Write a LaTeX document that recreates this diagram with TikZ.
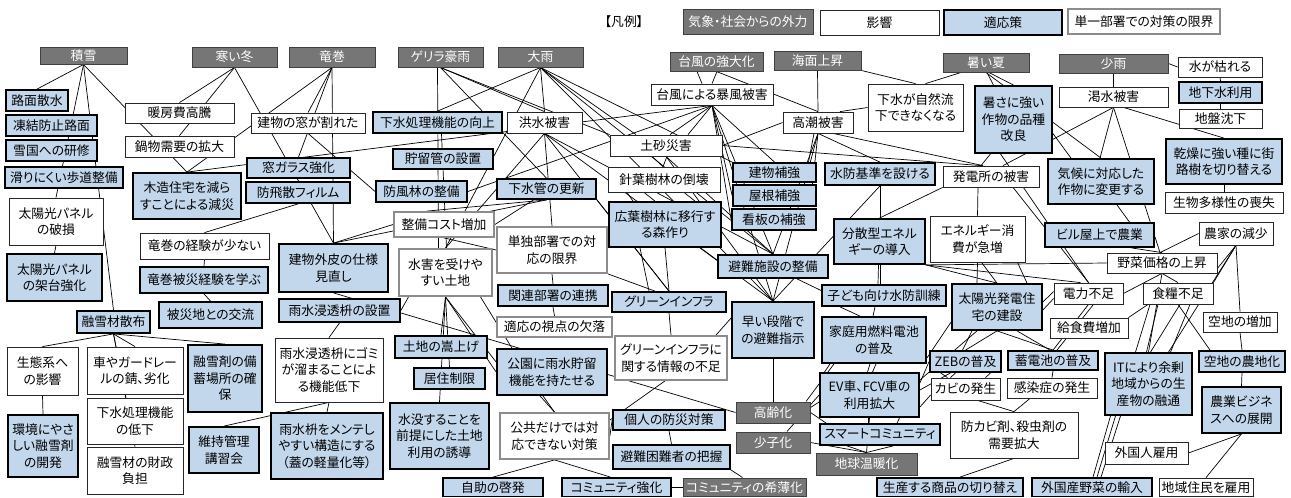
\documentclass[tikz,border=0pt]{standalone}
\usepackage{fontspec}
\setmainfont{Noto Sans CJK JP}[RawFeature=+palt]
\definecolor{adab}{RGB}{194,214,236}
\definecolor{extg}{RGB}{118,118,118}
\pgfdeclarelayer{back}
\pgfdeclarelayer{bg}
\pgfsetlayers{back,bg,main}
\tikzset{
 nb/.style={rectangle, inner sep=0.5pt, align=center, font=\fontsize{12.8}{16.5}\selectfont},
 ext/.style={nb, fill=extg, draw=black!75, line width=1pt, text=white},
 imp/.style={nb, fill=white, draw=black!85, line width=0.8pt},
 ada/.style={nb, fill=adab, draw=black, line width=1.8pt},
 lim/.style={nb, fill=white, draw=black!45, line width=1.8pt},
 conn/.style={draw=black, line width=0.7pt},
}
\newcommand\bx[7]{\node[#1, minimum width={(#5-#3)*1pt}, minimum height={(#6-#4)*1pt}] (#2) at ({(#3+#5)/2},{(#4+#6)/2}) {#7};}
\newcommand\lnk[2]{\draw[conn] (#1) -- (#2);}
\begin{document}
\begin{tikzpicture}[x=1pt,y=-1pt]
\useasboundingbox (0,0) rectangle (1291,498);
\begin{pgfonlayer}{back}
\fill[white] (0,0) rectangle (1291,498);
\end{pgfonlayer}
% legend
\node[font=\fontsize{12.8}{15}\selectfont] (lgt) at (624,21.5) {【凡例】};
\bx{ext}{lg1}{683}{9}{813}{34}{気象・社会からの外力}
\bx{imp}{lg2}{820}{10}{939}{35}{影響}
\bx{ada}{lg3}{944}{10}{1062}{35}{適応策}
\bx{lim}{lg4}{1068}{9}{1220}{34}{単一部署での対策の限界}
% external forces
\bx{ext}{sekisetsu}{40}{47}{127}{64}{積雪}
\bx{ext}{samui}{192}{47}{277}{67}{寒い冬}
\bx{ext}{tatsu}{289}{47}{375}{67}{竜巻}
\bx{ext}{guer}{398}{47}{483}{67}{ゲリラ豪雨}
\bx{ext}{ooame}{498}{47}{583}{67}{大雨}
\bx{ext}{taifu}{670}{52}{763}{71}{台風の強大化}
\bx{ext}{kaimen}{774}{51}{861}{70}{海面上昇}
\bx{ext}{atsui}{943}{53}{1029}{72}{暑い夏}
\bx{ext}{shou}{1059}{54}{1168}{73}{少雨}
\bx{ext}{kourei}{736}{402}{810}{423}{高齢化}
\bx{ext}{shoushi}{736}{432}{810}{453}{少子化}
\bx{ext}{ondan}{816}{453}{917}{475}{地球温暖化}
\bx{ext}{kihaku}{683}{478}{806}{496.5}{コミュニティの希薄化}
% impacts
\bx{imp}{danbou}{125}{103}{234}{123}{暖房費高騰}
\bx{imp}{nabe}{125}{136}{234}{157}{鍋物需要の拡大}
\bx{imp}{mado}{251}{113}{365}{133}{建物の窓が割れた}
\bx{imp}{paneru}{9}{198}{103}{245}{太陽光パネル\\の破損}
\bx{imp}{tkeiken}{140}{233}{269}{259}{竜巻の経験が少ない}
\bx{imp}{seitai}{7}{347}{78}{395}{生態系へ\\の影響}
\bx{imp}{kuruma}{87}{347}{183}{394}{車やガードレー\\ルの錆、劣化}
\bx{imp}{gteika}{87}{398}{183}{444}{下水処理機能\\の低下}
\bx{imp}{zaisei}{87}{447}{183}{494}{融雪材の財政\\負担}
\bx{imp}{gomi}{275}{338}{383}{402}{雨水浸透枡にゴミ\\が溜まることによ\\る機能低下}
\bx{imp}{kouzui}{507}{112}{582}{133}{洪水被害}
\bx{imp}{dosha}{610}{135}{722}{156}{土砂災害}
\bx{imp}{shinyou}{608}{167}{720}{192}{針葉樹林の倒壊}
\bx{imp}{boufu}{651}{84}{773}{105}{台風による暴風被害}
\bx{imp}{takashio}{783}{112}{853}{133}{高潮被害}
\bx{imp}{shizen}{868}{84}{963}{131}{下水が自然流\\下できなくなる}
\bx{imp}{hatsuden}{943}{166}{1039}{187}{発電所の被害}
\bx{imp}{energy}{930}{216}{1025}{262}{エネルギー消\\費が急増}
\bx{imp}{kassui}{1059}{87}{1168}{107}{渇水被害}
\bx{imp}{kareru}{1178}{57}{1262}{77}{水が枯れる}
\bx{imp}{jiban}{1179}{109}{1262}{128}{地盤沈下}
\bx{imp}{seibutsu}{1165}{192}{1283}{213}{生物多様性の喪失}
\bx{imp}{nouka}{1199}{222}{1273}{245}{農家の減少}
\bx{imp}{yasai}{1107}{253}{1217}{273}{野菜価格の上昇}
\bx{imp}{denryoku}{1054}{283}{1123}{304}{電力不足}
\bx{imp}{shokuryo}{1143}{283}{1213}{304}{食糧不足}
\bx{imp}{kyushoku}{1050}{318}{1128}{338}{給食費増加}
\bx{imp}{akichi}{1203}{312}{1277}{332}{空地の増加}
\bx{imp}{kabi}{931}{378}{1000}{400}{カビの発生}
\bx{imp}{kansen}{1007}{378}{1097}{398}{感染症の発生}
\bx{imp}{boukabi}{950}{412}{1078}{458}{防カビ剤、殺虫剤の\\需要拡大}
\bx{imp}{gaikokujin}{1105}{442}{1188}{464}{外国人雇用}
\bx{imp}{chiiki}{1159}{478}{1253}{496.5}{地域住民を雇用}
% limits
\bx{lim}{cost}{394}{212}{494}{237}{整備コスト増加}
\bx{lim}{tandoku}{497}{227}{607}{273}{単独部署での対\\応の限界}
\bx{lim}{suigai}{399}{249}{492}{296}{水害を受けや\\すい土地}
\bx{lim}{shiten}{497}{317}{612}{337}{適応の視点の欠落}
\bx{lim}{koukyou}{500}{413}{609}{459}{公共だけでは対\\応できない対策}
\bx{lim}{ginfo}{615}{336}{727}{380}{グリーンインフラに\\関する情報の不足}
% adaptations
\bx{ada}{romen}{6}{90}{68}{111}{路面散水}
\bx{ada}{touketsu}{6}{115}{97}{136}{凍結防止路面}
\bx{ada}{yukiguni}{6}{140}{97}{161}{雪国への研修}
\bx{ada}{hodou}{5}{167}{123}{188}{滑りにくい歩道整備}
\bx{ada}{mokuzou}{133}{173}{241}{219}{木造住宅を減ら\\すことによる減災}
\bx{ada}{glass}{247}{158}{350}{178}{窓ガラス強化}
\bx{ada}{film}{246}{182}{350}{203}{防飛散フィルム}
\bx{ada}{kadai}{7}{254}{102}{301}{太陽光パネル\\の架台強化}
\bx{ada}{tmanabu}{140}{267}{268}{293}{竜巻被災経験を学ぶ}
\bx{ada}{kouryu}{159}{302}{262}{328}{被災地との交流}
\bx{ada}{sanpu}{77}{311}{150}{333}{融雪材散布}
\bx{ada}{bichiku}{188}{345}{262}{412}{融雪剤の備\\蓄場所の確\\保}
\bx{ada}{kankyo}{8}{415}{78}{477}{環境にやさ\\しい融雪剤\\の開発}
\bx{ada}{iji}{189}{427}{259}{473}{維持管理\\講習会}
\bx{ada}{gaihi}{279}{244}{388}{292}{建物外皮の仕様\\見直し}
\bx{ada}{shintou}{279}{299}{400}{322}{雨水浸透枡の設置}
\bx{ada}{mente}{271}{413}{383}{479}{雨水枡をメンテし\\やすい構造にする\\（蓋の軽量化等）}
\bx{ada}{gkoujou}{373}{112}{502}{133}{下水処理機能の向上}
\bx{ada}{choryu}{393}{149}{493}{169}{貯留管の設置}
\bx{ada}{boufurin}{376}{181}{467}{202}{防風林の整備}
\bx{ada}{gesuikan}{497}{179}{596}{199}{下水管の更新}
\bx{ada}{kouyou}{609}{202}{721}{247}{広葉樹林に移行す\\る森作り}
\bx{ada}{tatehokyo}{733}{163}{816}{182}{建物補強}
\bx{ada}{yane}{733}{185}{816}{206}{屋根補強}
\bx{ada}{kanban}{732}{209}{816}{230}{看板の補強}
\bx{ada}{suibou}{825}{163}{935}{185}{水防基準を設ける}
\bx{ada}{atsusa}{975}{86}{1052}{153}{暑さに強い\\作物の品種\\改良}
\bx{ada}{chikasui}{1179}{82}{1262}{103}{地下水利用}
\bx{ada}{kansou}{1166}{139}{1282}{184}{乾燥に強い種に街\\路樹を切り替える}
\bx{ada}{kikou}{1048}{159}{1154}{204}{気候に対応した\\作物に変更する}
\bx{ada}{biru}{1045}{223}{1154}{247}{ビル屋上で農業}
\bx{ada}{hinan}{718}{255}{828}{278}{避難施設の整備}
\bx{ada}{bunsan}{834}{219}{925}{264}{分散型エネル\\ギーの導入}
\bx{ada}{kodomo}{822}{285}{946}{306}{子ども向け水防訓練}
\bx{ada}{ginfra}{612}{292}{726}{312}{グリーンインフラ}
\bx{ada}{hayai}{732}{302}{814}{358}{早い段階で\\の避難指示}
\bx{ada}{nenryo}{822}{317}{926}{363}{家庭用燃料電池\\の普及}
\bx{ada}{taiyoukou}{952}{284}{1042}{330}{太陽光発電住\\宅の建設}
\bx{ada}{zeb}{930}{351}{1001}{372}{ZEBの普及}
\bx{ada}{chikuden}{1008}{351}{1098}{370}{蓄電池の普及}
\bx{ada}{ev}{820}{373}{919}{417}{EV車、FCV車の\\利用拡大}
\bx{ada}{smart}{820}{424}{940}{445}{スマートコミュニティ}
\bx{ada}{it}{1105}{353}{1192}{415}{ITにより余剰\\地域からの生\\産物の融通}
\bx{ada}{nouchi}{1199}{351}{1285}{372}{空地の農地化}
\bx{ada}{business}{1202}{387}{1281}{433}{農業ビジネ\\スへの展開}
\bx{ada}{yunyu}{1032}{478}{1152}{496.5}{外国産野菜の輸入}
\bx{ada}{kirikae}{877}{478}{1023}{496.5}{生産する商品の切り替え}
\bx{ada}{renkei}{498}{285}{608}{306}{関連部署の連携}
\bx{ada}{kasaage}{395}{336}{487}{358}{土地の嵩上げ}
\bx{ada}{kyoju}{414}{368}{485}{389}{居住制限}
\bx{ada}{suibotsu}{390}{403}{489}{469}{水没することを\\前提にした土地\\利用の誘導}
\bx{ada}{kouen}{497}{349}{607}{395}{公園に雨水貯留\\機能を持たせる}
\bx{ada}{kojin}{613}{410}{725}{430}{個人の防災対策}
\bx{ada}{haaku}{613}{445}{730}{469}{避難困難者の把握}
\bx{ada}{comm}{562}{478}{671}{496.5}{コミュニティ強化}
\bx{ada}{jijo}{443}{478}{543}{496.5}{自助の啓発}
% connectors
\begin{pgfonlayer}{bg}
\lnk{sekisetsu.south}{romen.north}
\lnk{sekisetsu.south}{paneru.north}
\lnk{sekisetsu.south}{sanpu.north}
\lnk{sekisetsu.south}{mokuzou.north}
\lnk{samui.south}{danbou.north}
\lnk{samui.south}{nabe.north}
\lnk{samui.south}{gaihi.north}
\lnk{tatsu.south}{mokuzou.north}
\lnk{tatsu.south}{gaihi.north}
\lnk{tatsu.south}{glass.north}
\lnk{tatsu.south}{mado.north}
\lnk{boufu.south}{mokuzou.north}
\lnk{mado.south}{boufurin.west}
\lnk{film.south}{tkeiken.north}
\lnk{tkeiken.south}{tmanabu.north}
\lnk{tmanabu.south}{kouryu.north}
\lnk{paneru.south}{kadai.north}
\lnk{sanpu.south}{seitai.north}
\lnk{sanpu.south}{kuruma.north}
\lnk{sanpu.south}{[xshift=-9pt]gteika.north}
\lnk{sanpu.south}{zaisei.north}
\lnk{sanpu.south}{bichiku.north}
\lnk{seitai.south}{kankyo.north}
\lnk{iji.north}{gomi.south}
\lnk{gomi.south}{mente.north}
\lnk{shintou.south}{gomi.north}
\lnk{gaihi.south}{kourei.west}
\lnk{cost.west}{gaihi.north}
\lnk{gesuikan.south}{gaihi.north}
\lnk{gesuikan.south}{[xshift=-17pt]cost.north}
\lnk{[xshift=-13pt]gesuikan.south}{cost.east}
\lnk{[xshift=-3pt]guer.south}{[xshift=-7pt]suigai.north}
\lnk{[xshift=4pt]gkoujou.south}{[xshift=1pt]suigai.north}
\lnk{ooame.south}{gkoujou.north}
\lnk{guer.south}{gesuikan.north}
\lnk{guer.south}{kouzui.north}
\lnk{guer.south}{dosha.north west}
\lnk{ooame.south}{kouzui.north}
\lnk{ooame.south}{[xshift=-30pt]dosha.north}
\lnk{ooame.south}{tatehokyo.north west}
\lnk{ooame.south}{hinan.north}
\lnk{ooame.south}{hayai.north}
\lnk{ooame.south}{suigai.north}
\lnk{kouzui.south}{tandoku.north}
\lnk{kouzui.south}{hinan.north}
\lnk{kouzui.south}{hayai.north}
\lnk{kouzui.south}{ginfra.north}
\lnk{kouzui.south}{suigai.north}
\lnk{boufu.south}{boufurin.east}
\lnk{boufu.south}{[xshift=4pt]dosha.north}
\lnk{boufu.south}{[xshift=22pt]dosha.north}
\lnk{boufu.south}{tatehokyo.north}
\lnk{boufu.south}{yane.west}
\lnk{boufu.south}{kanban.west}
\lnk{boufu.south}{hinan.north}
\lnk{boufu.south}{hayai.north}
\lnk{[xshift=-19.5pt]taifu.south}{[xshift=-10pt]boufu.north}
\lnk{[xshift=0.5pt]taifu.south}{boufu.north}
\lnk{taifu.south}{takashio.north}
\lnk{kaimen.south}{takashio.north}
\lnk{kaimen.south east}{shizen.north}
\lnk{[xshift=-25pt]atsui.south}{[xshift=10pt]shizen.north}
\lnk{shizen.west}{[xshift=22pt]takashio.north}
\lnk{takashio.west}{dosha.east}
\lnk{dosha.east}{[xshift=-10pt]hatsuden.north}
\lnk{[xshift=-4pt]takashio.south}{[xshift=34pt]tatehokyo.north}
\lnk{takashio.south}{[xshift=38pt]yane.north}
\lnk{takashio.south}{suibou.north}
\lnk{[xshift=15pt]takashio.south}{[xshift=-8pt]hatsuden.north}
\lnk{takashio.south}{hinan.north}
\lnk{takashio.south}{hayai.north}
\lnk{dosha.south}{hinan.north}
\lnk{dosha.south}{hayai.north}
\lnk{[xshift=-14pt]dosha.south}{[xshift=-1pt]shinyou.north}
\lnk{[xshift=1pt]dosha.south}{[xshift=-1pt]shinyou.north}
\lnk{[xshift=-37pt]shinyou.south}{[xshift=-32pt]kouyou.north}
\lnk{[xshift=-20pt]shinyou.south}{[xshift=-10pt]kouyou.north}
\lnk{[xshift=20pt]shinyou.south}{[xshift=30pt]kouyou.north}
\lnk{kouyou.south}{ginfra.north}
\lnk{[xshift=-25pt]kouyou.south}{[xshift=-20pt]ginfra.north}
\lnk{[xshift=35pt]kouyou.south}{[yshift=6pt]hinan.west}
\lnk{tandoku.south}{renkei.north}
\lnk{renkei.south}{shiten.north}
\lnk{tandoku.south east}{[xshift=-14pt]ginfra.north}
\lnk{gesuikan.south east}{ginfra.north}
\lnk{cost.south}{tandoku.west}
\lnk{suigai.south}{kasaage.north}
\lnk{suigai.south}{kyoju.north}
\lnk{suigai.south}{suibotsu.north}
\lnk{[xshift=-37pt]suigai.south}{shintou.east}
\lnk{suigai.south}{kouen.west}
\lnk{suigai.south}{[yshift=10pt]kouen.west}
\lnk{[xshift=35pt]suigai.south}{[xshift=-40pt]kouen.north}
\lnk{[xshift=-12pt]kouen.south}{koukyou.north}
\lnk{[xshift=-9pt]kouen.south}{koukyou.north}
\lnk{koukyou.south}{jijo.north}
\lnk{koukyou.south}{[xshift=-6pt]comm.north}
\lnk{koukyou.east}{kojin.west}
\lnk{[yshift=16pt]koukyou.east}{[xshift=-6pt]ginfo.south}
\lnk{kojin.south}{haaku.north}
\lnk{haaku.south east}{[xshift=60pt]kihaku.north west}
\lnk{comm.east}{kihaku.west}
\lnk{ginfra.south}{ginfo.north}
\lnk{[xshift=45pt]ginfo.north}{[yshift=12pt]hayai.west}
\lnk{hayai.south}{kourei.north}
\lnk{[yshift=5pt]kourei.east}{[yshift=-7pt]ev.west}
\lnk{kourei.east}{[xshift=7pt]smart.north west}
\lnk{[xshift=14pt]shoushi.north}{ev.west}
\lnk{shoushi.east}{ondan.north}
\lnk{[xshift=33pt]kourei.north}{[xshift=-40pt]nenryo.south}
\lnk{ev.south}{ondan.north}
\lnk{ondan.north}{[xshift=-33pt]smart.south}
\lnk{ondan.north}{[xshift=13pt]smart.south}
\lnk{[xshift=30pt]ev.south}{[xshift=17pt]smart.north}
\lnk{[xshift=24pt]hinan.south}{[yshift=5pt]kodomo.west}
\lnk{suibou.south}{hayai.north}
\lnk{suibou.south}{[xshift=-4pt]kodomo.north}
\lnk{[xshift=-1pt]bunsan.south}{[xshift=-6pt]kodomo.north}
\lnk{hatsuden.south west}{bunsan.north}
\lnk{[xshift=-13pt]hatsuden.south}{energy.north}
\lnk{[xshift=22pt]hatsuden.south}{denryoku.north}
\lnk{energy.south}{[xshift=-20pt]taiyoukou.north}
\lnk{[xshift=4pt]energy.south}{taiyoukou.north}
\lnk{[xshift=40pt]energy.south}{[xshift=30pt]taiyoukou.north}
\lnk{[xshift=1pt]atsui.south}{[xshift=-20pt]atsusa.north}
\lnk{[xshift=3pt]atsui.south}{atsusa.north}
\lnk{atsui.south}{kikou.north}
\lnk{[xshift=-23pt]atsusa.south}{[xshift=-10pt]hatsuden.north}
\lnk{kassui.south}{[xshift=12pt]hatsuden.north}
\lnk{[xshift=-13pt]atsusa.south}{denryoku.north}
\lnk{[yshift=-14pt]atsusa.east}{[xshift=-30pt]kikou.north}
\lnk{kassui.south}{[xshift=-1pt]kikou.north}
\lnk{kassui.south}{[xshift=-2pt]yasai.north}
\lnk{[xshift=10pt]kassui.south}{kansou.north}
\lnk{shou.south}{kassui.north}
\lnk{shou.east}{kareru.west}
\lnk{kareru.south}{chikasui.north}
\lnk{chikasui.south}{jiban.north}
\lnk{kansou.south}{seibutsu.north}
\lnk{[xshift=16pt]kikou.south}{[xshift=30pt]biru.north}
\lnk{[xshift=32pt]biru.south}{yasai.north}
\lnk{nouka.west}{[xshift=-2pt]yasai.north}
\lnk{nouka.south}{[xshift=-4pt]yasai.south east}
\lnk{nouka.south}{akichi.north}
\lnk{nouka.south}{shokuryo.north east}
\lnk{nouka.south}{[xshift=20pt]it.north}
\lnk{akichi.south}{nouchi.north}
\lnk{nouchi.south}{business.north}
\lnk{business.south}{gaikokujin.east}
\lnk{business.south}{chiiki.north}
\lnk{yasai.south}{denryoku.east}
\lnk{yasai.south}{shokuryo.north}
\lnk{yasai.south}{it.north}
\lnk{[xshift=-30pt]shokuryo.south}{kyushoku.north east}
\lnk{[xshift=-28pt]shokuryo.south}{[xshift=-13pt]it.north}
\lnk{[xshift=-20pt]shokuryo.south}{[xshift=-2pt]it.north}
\lnk{[xshift=2pt]shokuryo.south}{[xshift=2pt]it.north}
\lnk{[xshift=12pt]shokuryo.south}{[xshift=22pt]it.north}
\lnk{shokuryo.south}{[xshift=-32pt]nouchi.north}
\lnk{[xshift=-38pt]it.south}{[xshift=1pt]yunyu.north}
\lnk{[xshift=-33pt]it.south}{[xshift=5pt]yunyu.north}
\lnk{[xshift=-28pt]it.south}{[xshift=9pt]yunyu.north}
\lnk{[yshift=2pt]denryoku.west}{[yshift=5pt]taiyoukou.east}
\lnk{[yshift=-5pt]denryoku.west}{[yshift=-3pt]taiyoukou.east}
\lnk{denryoku.south}{chikuden.north}
\lnk{[xshift=5pt]denryoku.south}{[xshift=4pt]chikuden.north}
\lnk{taiyoukou.south}{chikuden.north}
\lnk{[xshift=20pt]taiyoukou.south}{[xshift=-3pt]chikuden.north}
\lnk{taiyoukou.south}{zeb.north}
\lnk{[xshift=-25pt]taiyoukou.south}{[xshift=-3pt]zeb.north}
\lnk{[yshift=-18pt]nenryo.east}{[yshift=-15pt]taiyoukou.west}
\lnk{[yshift=5pt]ev.east}{[xshift=-15pt]zeb.south}
\lnk{[yshift=-12pt]ev.east}{[yshift=-6pt]kabi.west}
\lnk{[yshift=12pt]ev.east}{zeb.west}
\lnk{[yshift=15pt]ev.east}{[xshift=-20pt]taiyoukou.south}
\lnk{[xshift=-25pt]zeb.south}{[xshift=-18pt]kabi.north}
\lnk{[xshift=-10pt]zeb.south}{[xshift=-15pt]kabi.north}
\lnk{[xshift=25pt]zeb.south}{[xshift=20pt]kabi.north}
\lnk{[xshift=12pt]kabi.south}{boukabi.north}
\lnk{[xshift=-22pt]kansen.south}{boukabi.north}
\lnk{chikuden.south}{kansen.north}
\lnk{boukabi.south}{[xshift=10pt]kirikae.north}
\lnk{bunsan.south east}{yasai.west}
\lnk{bunsan.south east}{[xshift=-8pt]denryoku.north}
\lnk{bunsan.south east}{taiyoukou.north}
\lnk{[xshift=-44pt]kodomo.south}{[xshift=-14pt]nenryo.north}
\lnk{[xshift=-9pt]kodomo.south}{[xshift=-1pt]nenryo.north}
\lnk{[xshift=-44pt]nenryo.south}{[xshift=-45pt]ev.north}
\lnk{[xshift=-4pt]nenryo.south}{[xshift=-2pt]ev.north}
\lnk{[xshift=2pt]nenryo.south}{[xshift=3pt]ev.north}
\lnk{[xshift=-1.5pt]ev.south}{[xshift=-12pt]smart.north}
\end{pgfonlayer}
\end{tikzpicture}
\end{document}
